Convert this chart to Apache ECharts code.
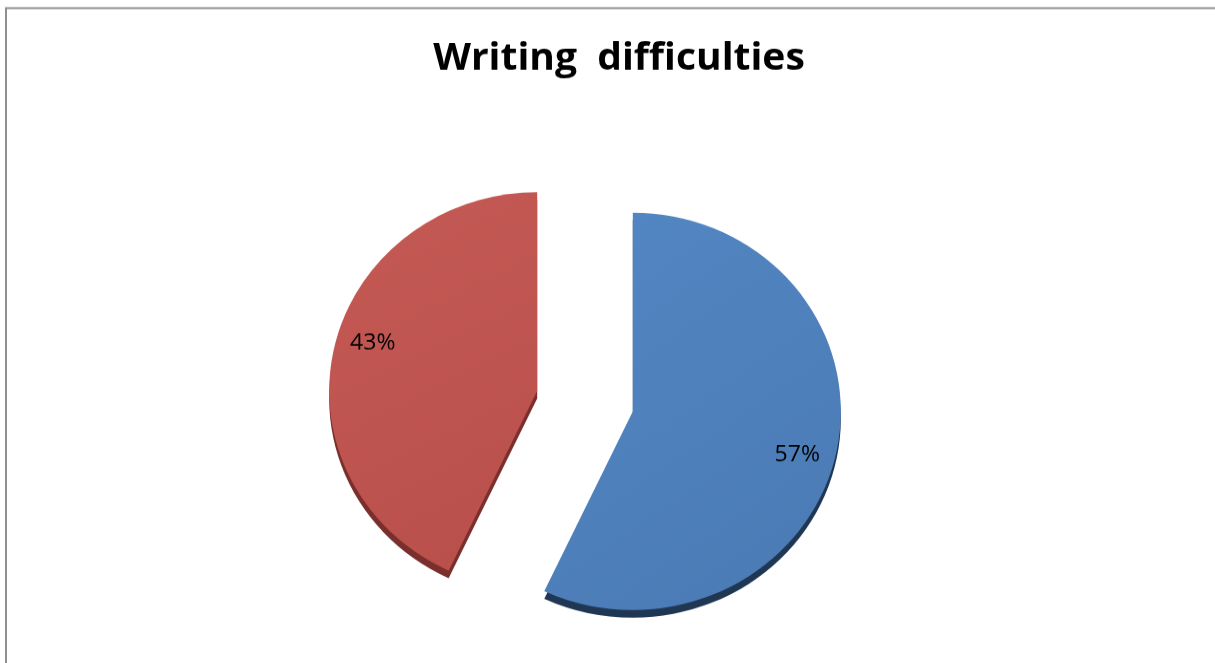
<!DOCTYPE html>
<html>
<head>
<meta charset="utf-8">
<script src="https://cdn.jsdelivr.net/npm/echarts@6/dist/echarts.min.js"></script>
<style>
  html, body { margin: 0; padding: 0; background: #fff; overflow: hidden; }
  /* the pie is seen at a slight tilt, so the whole drawing is flattened a little */
  #chart { width: 1215px; height: 694px; transform: scaleY(0.955); transform-origin: 0 0; }
</style>
</head>
<body>
<div id="chart"></div>
<script>
// Survey answers shown as an exploded pie
const categories = ['Yes', 'No'];
const values = [57, 43];
const chartTitle = 'Writing  difficulties';

const faceColors = [
  { top: '#5387c3', bottom: '#4a7ab4' },
  { top: '#c55a55', bottom: '#b94f4b' }
];
const sideColors = ['#203754', '#7a2f2c'];
// nudges that move each percentage label further out along its slice
const labelShift = [[60, 22], [-60, -27]];

const center = [585, 420];
const radius = 208;
const explode = 49;
const depth = 8;

const faceData = categories.map((name, i) => ({
  name: name,
  value: values[i],
  selected: true,
  itemStyle: {
    color: new echarts.graphic.LinearGradient(0, 0, 1, 1, [
      { offset: 0, color: faceColors[i].top },
      { offset: 1, color: faceColors[i].bottom }
    ])
  }
}));

const sideData = categories.map((name, i) => ({
  name: name,
  value: values[i],
  selected: true,
  itemStyle: { color: sideColors[i] }
}));

const chart = echarts.init(document.getElementById('chart'), null, { renderer: 'canvas' });
chart.setOption({
  animation: false,
  backgroundColor: '#ffffff',
  title: {
    text: chartTitle,
    left: 614,
    textAlign: 'center',
    top: 37,
    textStyle: {
      fontFamily: 'Open Sans',
      fontWeight: 'bold',
      fontSize: 39,
      color: '#000'
    }
  },
  graphic: [{
    type: 'rect',
    shape: { x: 6, y: 8.5, width: 1240, height: 720 },
    style: { fill: 'none', stroke: '#8f8f8f', lineWidth: 2 },
    silent: true,
    z: 100
  }],
  series: [
    {
      // edge of the tilted pie, peeking out below each slice
      type: 'pie',
      silent: true,
      z: 1,
      center: [center[0], center[1] + depth],
      radius: radius,
      startAngle: 90,
      clockwise: true,
      selectedMode: 'multiple',
      selectedOffset: explode,
      label: { show: false },
      labelLine: { show: false },
      emphasis: { disabled: true },
      data: sideData
    },
    {
      type: 'pie',
      z: 2,
      center: center,
      radius: radius,
      startAngle: 90,
      clockwise: true,
      selectedMode: 'multiple',
      selectedOffset: explode,
      emphasis: { disabled: true },
      label: {
        show: true,
        position: 'inside',
        formatter: '{c}%',
        fontFamily: 'Open Sans',
        fontSize: 23,
        color: '#000'
      },
      labelLine: { show: false },
      labelLayout: function (params) {
        const s = labelShift[params.dataIndex];
        return { dx: s[0], dy: s[1] };
      },
      data: faceData
    }
  ]
});
</script>
</body>
</html>
